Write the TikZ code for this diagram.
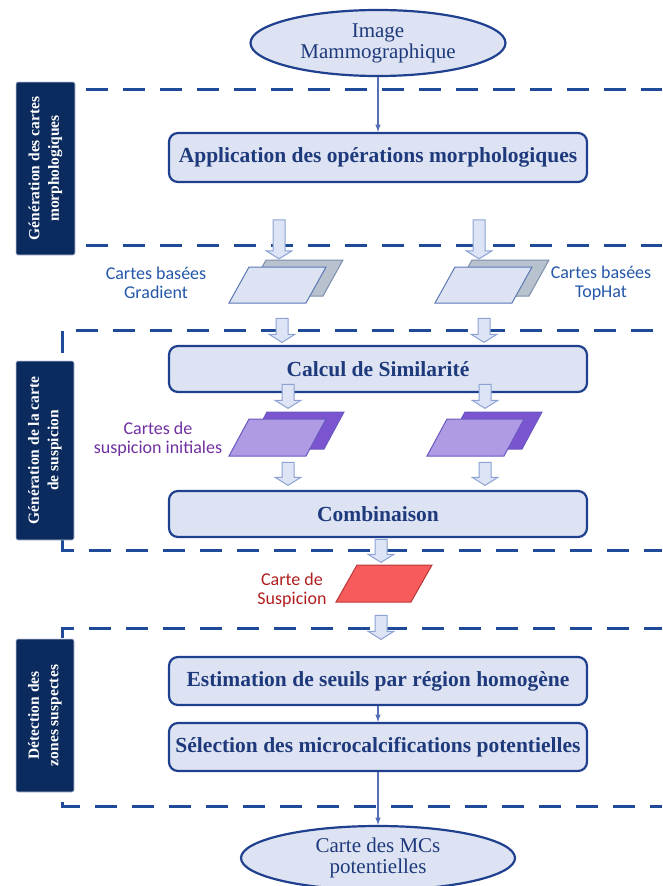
\documentclass[tikz,border=0pt]{standalone}
\usepackage{fontspec}
\setmainfont{Liberation Serif}
\newfontfamily\calibri{Carlito}
\usetikzlibrary{shapes.geometric,shapes.arrows}
\definecolor{navy}{HTML}{1F408E}
\definecolor{boxfill}{HTML}{DDE3F2}
\definecolor{boxtext}{HTML}{1E3A7C}
\definecolor{sidefill}{HTML}{0B2A5E}
\definecolor{dashblue}{HTML}{1F4A98}
\definecolor{thinarrow}{HTML}{5670B8}
\definecolor{arrowfill}{HTML}{DCE4F5}
\definecolor{arrowedge}{HTML}{8CA2D2}
\definecolor{grayback}{HTML}{B8C1CE}
\definecolor{grayedge}{HTML}{7D8DAE}
\definecolor{lightedge}{HTML}{5B78B5}
\definecolor{purpback}{HTML}{7B55CF}
\definecolor{purpfront}{HTML}{AE9BE4}
\definecolor{purpedge}{HTML}{6A58C0}
\definecolor{redfill}{HTML}{F75B5B}
\definecolor{rededge}{HTML}{B83838}
\definecolor{lblue}{HTML}{2457A8}
\definecolor{lpurple}{HTML}{7030A0}
\definecolor{lred}{HTML}{B01E1E}
\begin{document}
\begin{tikzpicture}[>=latex, x=1pt, y=-1pt,
    process/.style={draw=navy, line width=2.2, fill=boxfill, rounded corners=9,
        minimum width=418, text=boxtext, font=\fontsize{21.5}{23}\selectfont\bfseries},
    terminal/.style={ellipse, draw=navy, line width=2.2, fill=boxfill, align=center,
        text=boxtext, inner sep=0, font=\fontsize{21}{21}\selectfont},
    sidebox/.style={draw=white!70!navy, line width=0.6, fill=sidefill, rounded corners=2,
        rotate=90, text=white, align=center, inner sep=0,
        font=\fontsize{15.5}{19.5}\selectfont\bfseries},
    bigarrow/.style={single arrow, draw=arrowedge, fill=arrowfill, line width=1,
        single arrow head extend=7, single arrow tip angle=116, inner sep=5.5, rotate=-90},
    zone/.style={dashblue, line width=3, dash pattern=on 22pt off 15pt},
    maplabel/.style={align=center, font=\calibri\fontsize{18}{19}\selectfont}]
\useasboundingbox (0,0) rectangle (662,886);

% zones
\draw[zone](86,89)--(662,89);
\draw[zone](86,245)--(662,245);
\draw[zone](62,353)--(62,330)--(662,330);
\draw[zone](62,540)--(62,550)--(662,550);
\draw[zone](62,638)--(62,628)--(662,628);
\draw[zone](62,802)--(62,806)--(662,806);
\node[sidebox, minimum width=173, minimum height=59] (zone1) at (45.5,168.5)
    {G\'en\'eration des cartes\\morphologiques};
\node[sidebox, minimum width=179, minimum height=58] (zone2) at (45,450.5)
    {G\'en\'eration de la carte\\de suspicion};
\node[sidebox, minimum width=153, minimum height=58] (zone3) at (45,715.5)
    {D\'etection des\\zones suspectes};

% main flow
\node[terminal, minimum width=255, minimum height=66] (image) at (378,43)
    {Image\\Mammographique};
\node[process, minimum height=49] (morpho) at (378,157.5)
    {Application des op\'erations morphologiques};
\node[process, minimum height=46] (simil) at (378,369) {Calcul de Similarit\'e};
\node[process, minimum height=46] (combi) at (378,514) {Combinaison};
\node[process, minimum height=48] (seuils) at (378,681)
    {Estimation de seuils par r\'egion homog\`ene};
\node[process, minimum height=48] (select) at (378,747)
    {S\'election des microcalcifications potentielles};
\node[terminal, minimum width=274, minimum height=64] (mcs) at (378,858)
    {Carte des MCs\\potentielles};
\draw[->, thinarrow, line width=1.5](image)--(morpho);
\draw[->, thinarrow, line width=1.5](seuils)--(select);
\draw[->, thinarrow, line width=1.5](select)--(mcs);

% cartes
\foreach \x in {229,435}
{
    \draw[grayedge, fill=grayback, line width=1](\x+17,296)--(\x+94,296)--(\x+114,260)--(\x+37,260)--cycle;
    \draw[lightedge, fill=boxfill, line width=1](\x,303)--(\x+77,303)--(\x+97,267)--(\x+20,267)--cycle;
}
\foreach \x in {229,427}
{
    \draw[purpedge, fill=purpback, line width=1](\x+18,449)--(\x+95,449)--(\x+115,412)--(\x+38,412)--cycle;
    \draw[purpedge, fill=purpfront, line width=1](\x,456)--(\x+77,456)--(\x+97,419)--(\x+20,419)--cycle;
}
\draw[rededge, fill=redfill, line width=1](336,602)--(411,602)--(432,565)--(357,565)--cycle;
\node[maplabel, text=lblue] (gradient) at (156,283) {Cartes bas\'ees\\Gradient};
\node[maplabel, text=lblue] (tophat) at (601,283) {Cartes bas\'ees\\TopHat};
\node[maplabel, text=lpurple] (initiales) at (158,439) {Cartes de\\suspicion initiales};
\node[maplabel, text=lred] (suspicion) at (292,590) {Carte de\\Suspicion};

% block arrows
\foreach \x in {279,479}
{
    \node[bigarrow, minimum height=39] at (\x,237.5) {};
}
\foreach \x in {282,484}
{
    \node[bigarrow, minimum height=24] at (\x,328.5) {};
}
\foreach \x in {288,485}
{
    \node[bigarrow, minimum height=24] at (\x,394.5) {};
    \node[bigarrow, minimum height=23] at (\x,472) {};
}
\node[bigarrow, minimum height=23] (down1) at (381,549) {};
\node[bigarrow, minimum height=24] (down2) at (381,625.5) {};
\end{tikzpicture}
\end{document}
